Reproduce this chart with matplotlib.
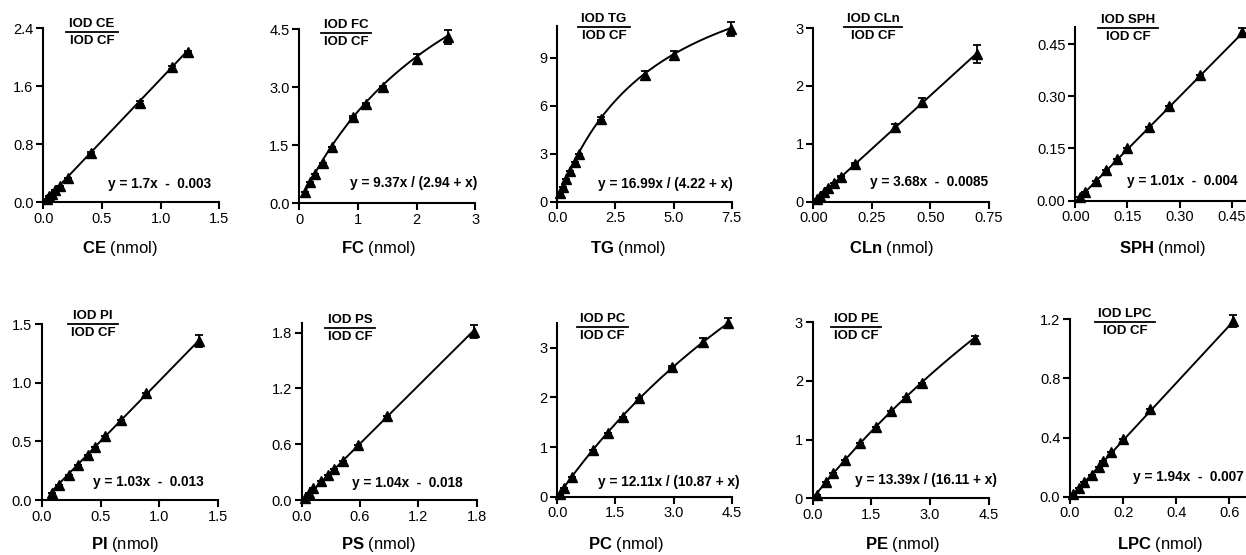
import numpy as np
import matplotlib
matplotlib.use('Agg')
import matplotlib.pyplot as plt
from matplotlib.lines import Line2D

plt.rcParams['font.family'] = ['Liberation Sans', 'DejaVu Sans']
plt.rcParams['mathtext.fontset'] = 'custom'
plt.rcParams['mathtext.rm'] = 'Liberation Sans'
plt.rcParams['mathtext.bf'] = 'Liberation Sans:bold'

#------------------------------------------------------------------------------
# data (nmol vs IOD ratio)
ce_x = [0.03, 0.05, 0.07, 0.10, 0.14, 0.21, 0.41, 0.82, 1.10, 1.23]
ce_y = [0.04, 0.08, 0.12, 0.17, 0.23, 0.34, 0.68, 1.37, 1.86, 2.07]
ce_err = [0, 0, 0, 0, 0, 0, 0.01, 0.02, 0.02, 0.02]

fc_x = [0.10, 0.19, 0.27, 0.40, 0.56, 0.91, 1.13, 1.43, 2.00, 2.53]
fc_y = [0.29, 0.55, 0.77, 1.05, 1.45, 2.23, 2.58, 3.01, 3.73, 4.30]
fc_err = [0, 0, 0, 0, 0, 0.02, 0.02, 0.03, 0.12, 0.17]

tg_x = [0.12, 0.24, 0.38, 0.56, 0.76, 0.94, 1.90, 3.75, 5.00, 7.45]
tg_y = [0.52, 0.95, 1.45, 1.95, 2.50, 3.00, 5.20, 7.90, 9.15, 10.80]
tg_err = [0, 0, 0, 0, 0, 0, 0.10, 0.25, 0.25, 0.45]

cln_x = [0.014, 0.03, 0.046, 0.064, 0.088, 0.12, 0.178, 0.35, 0.466, 0.70]
cln_y = [0.04, 0.10, 0.17, 0.24, 0.32, 0.43, 0.65, 1.29, 1.72, 2.55]
cln_err = [0, 0, 0, 0, 0, 0.01, 0.02, 0.05, 0.07, 0.15]

sph_x = [0.014, 0.029, 0.06, 0.088, 0.119, 0.15, 0.211, 0.27, 0.359, 0.48]
sph_y = [0.01, 0.026, 0.057, 0.088, 0.119, 0.15, 0.211, 0.272, 0.362, 0.485]
sph_err = [0, 0, 0, 0, 0, 0, 0, 0, 0, 0.012]

pi_x = [0.085, 0.15, 0.23, 0.31, 0.39, 0.45, 0.54, 0.67, 0.89, 1.34]
pi_y = [0.062, 0.13, 0.21, 0.30, 0.38, 0.45, 0.55, 0.68, 0.91, 1.36]
pi_err = [0, 0, 0, 0, 0, 0, 0, 0, 0, 0.05]

ps_x = [0.03, 0.075, 0.12, 0.20, 0.27, 0.33, 0.42, 0.58, 0.88, 1.77]
ps_y = [0.02, 0.07, 0.13, 0.20, 0.27, 0.33, 0.42, 0.59, 0.90, 1.81]
ps_err = [0, 0, 0, 0, 0, 0, 0, 0, 0, 0.07]

pc_x = [0.07, 0.17, 0.37, 0.93, 1.32, 1.69, 2.12, 2.95, 3.77, 4.41]
pc_y = [0.05, 0.17, 0.40, 0.94, 1.28, 1.61, 1.98, 2.62, 3.12, 3.49]
pc_err = [0, 0, 0, 0, 0, 0, 0, 0.02, 0.07, 0.10]

pe_x = [0.10, 0.34, 0.53, 0.83, 1.21, 1.62, 1.99, 2.39, 2.79, 4.15]
pe_y = [0.06, 0.27, 0.43, 0.66, 0.94, 1.22, 1.48, 1.72, 1.97, 2.71]
pe_err = [0, 0, 0, 0, 0, 0, 0, 0, 0, 0.06]

lpc_x = [0.013, 0.033, 0.054, 0.083, 0.108, 0.125, 0.154, 0.20, 0.30, 0.615]
lpc_y = [0.02, 0.06, 0.10, 0.15, 0.20, 0.24, 0.30, 0.39, 0.59, 1.19]
lpc_err = [0, 0, 0, 0, 0, 0, 0, 0, 0, 0.04]

# fit parameters as printed in each panel
# ('lin', slope, intercept) or ('hyp', a, b) for y = a*x/(b+x)
ce_fit = ('lin', 1.7, -0.003)
fc_fit = ('hyp', 9.37, 2.94)
tg_fit = ('hyp', 16.99, 4.22)
cln_fit = ('lin', 3.68, -0.0085)
sph_fit = ('lin', 1.01, -0.004)
pi_fit = ('lin', 1.03, -0.013)
ps_fit = ('lin', 1.04, -0.018)
pc_fit = ('hyp', 12.11, 10.87)
pe_fit = ('hyp', 13.39, 16.11)
lpc_fit = ('lin', 1.94, -0.007)

names = ['CE', 'FC', 'TG', 'CLn', 'SPH', 'PI', 'PS', 'PC', 'PE', 'LPC']
xs_all = [ce_x, fc_x, tg_x, cln_x, sph_x, pi_x, ps_x, pc_x, pe_x, lpc_x]
ys_all = [ce_y, fc_y, tg_y, cln_y, sph_y, pi_y, ps_y, pc_y, pe_y, lpc_y]
errs_all = [ce_err, fc_err, tg_err, cln_err, sph_err, pi_err, ps_err, pc_err, pe_err, lpc_err]
fits = [ce_fit, fc_fit, tg_fit, cln_fit, sph_fit, pi_fit, ps_fit, pc_fit, pe_fit, lpc_fit]

x_ticks = [[0, 0.5, 1.0, 1.5], [0, 1, 2, 3], [0, 2.5, 5.0, 7.5], [0, 0.25, 0.5, 0.75],
           [0, 0.15, 0.30, 0.45], [0, 0.5, 1.0, 1.5], [0, 0.6, 1.2, 1.8], [0, 1.5, 3.0, 4.5],
           [0, 1.5, 3.0, 4.5], [0, 0.2, 0.4, 0.6]]
y_ticks = [[0, 0.8, 1.6, 2.4], [0, 1.5, 3.0, 4.5], [0, 3, 6, 9], [0, 1, 2, 3],
           [0, 0.15, 0.30, 0.45], [0, 0.5, 1.0, 1.5], [0, 0.6, 1.2, 1.8], [0, 1, 2, 3],
           [0, 1, 2, 3], [0, 0.4, 0.8, 1.2]]
x_fmt = ['%.1f', '%d', '%.1f', '%.2f', '%.2f', '%.1f', '%.1f', '%.1f', '%.1f', '%.1f']
y_fmt = ['%.1f', '%.1f', '%d', '%d', '%.2f', '%.1f', '%.1f', '%d', '%d', '%.1f']
x_lims = [1.5, 3, 7.5, 0.75, 0.5, 1.5, 1.8, 4.5, 4.5, 0.7]
y_lims = [2.4, 4.5, 11, 3, 0.5, 1.5, 1.9, 3.5, 3, 1.2]

#------------------------------------------------------------------------------
# layout in pixels (left, right, top, bottom of each axes box)
W, H = 1246, 555
boxes = [(43.3, 219.3, 28.0, 202.3), (299.3, 475.3, 29.3, 203.3), (557.3, 731.7, 25.7, 201.7),
         (813.3, 988.7, 28.0, 201.7), (1075.3, 1249.0, 26.7, 200.7),
         (41.7, 218.3, 324.3, 500.0), (301.7, 476.7, 323.3, 500.0), (557.3, 731.7, 322.8, 496.7),
         (812.7, 988.7, 322.3, 498.3), (1070.0, 1255.9, 319.3, 496.7)]
frac_pos = [(92, 31.7), (346, 33.3), (604, 27.3), (873, 26.7), (1128, 28.3),
            (93, 324.3), (350, 327.7), (602.5, 326.7), (856, 326.7), (1125, 321.7)]
eq_pos = [(211, 184), (477, 183), (733, 184), (988, 182), (1238, 181),
          (204, 482), (463, 483), (740, 482), (997, 480), (1244, 477)]
lab_pos = [(120, 248), (378, 248), (628, 248), (892, 248), (1162, 248),
           (125, 545), (378, 545), (626, 545), (902, 545), (1160, 545)]

fig = plt.figure(figsize=(W / 100, H / 100), dpi=100)

def fx(px): return px / W
def fy(py): return 1 - py / H

frac_texts = []
for i in range(10):
    l, r, t, b = boxes[i]
    ax = fig.add_axes([fx(l), fy(b), (r - l) / W, (b - t) / H])
    x = np.array(xs_all[i]); y = np.array(ys_all[i]); e = np.array(errs_all[i])
    kind, p1, p2 = fits[i]
    xx = np.linspace(x.min(), x.max(), 300)
    if kind == 'lin':
        yy = p1 * xx + p2
        eq = 'y = %gx  -  %g' % (p1, abs(p2))
    else:
        yy = p1 * xx / (p2 + xx)
        eq = 'y = %.2fx / (%.2f + x)' % (p1, p2)
    ax.plot(xx, yy, color='black', lw=1.4, clip_on=False)
    ax.errorbar(x, y, yerr=e, fmt='none', ecolor='black', elinewidth=1.3,
                capsize=3, capthick=1.3, clip_on=False)
    ax.plot(x, y, '^', color='black', ms=6.5, clip_on=False)
    ax.set_xlim(0, x_lims[i]); ax.set_ylim(0, y_lims[i])
    ax.set_xticks(x_ticks[i]); ax.set_yticks(y_ticks[i])
    ax.set_xticklabels([x_fmt[i] % v for v in x_ticks[i]])
    ax.set_yticklabels([y_fmt[i] % v for v in y_ticks[i]])
    for s in ['top', 'right']:
        ax.spines[s].set_visible(False)
    for s in ['left', 'bottom']:
        ax.spines[s].set_linewidth(1.5)
    ax.tick_params(direction='out', length=5, width=1.5, labelsize=10.5, pad=2)
    ax.patch.set_alpha(0)

    ex, ey = eq_pos[i]
    fig.text(fx(ex), fy(ey), eq, ha='right', va='center', fontsize=9.8, fontweight='bold')
    lx, ly = lab_pos[i]
    fig.text(fx(lx), fy(ly), r'$\mathbf{%s}$ (nmol)' % names[i], ha='center', va='center', fontsize=12)
    cx, cy = frac_pos[i]
    t1 = fig.text(fx(cx), fy(cy - 2), 'IOD ' + names[i], ha='center', va='bottom', fontsize=9.5, fontweight='bold')
    t2 = fig.text(fx(cx), fy(cy + 3), 'IOD CF', ha='center', va='top', fontsize=9.5, fontweight='bold')
    frac_texts.append((cx, cy, t1, t2))

fig.canvas.draw()
rend = fig.canvas.get_renderer()
for cx, cy, t1, t2 in frac_texts:
    w = max(t1.get_window_extent(rend).width, t2.get_window_extent(rend).width) + 6
    fig.add_artist(Line2D([fx(cx - w / 2), fx(cx + w / 2)], [fy(cy), fy(cy)], color='black', lw=1.3))

fig.savefig('out.png', dpi=100)
